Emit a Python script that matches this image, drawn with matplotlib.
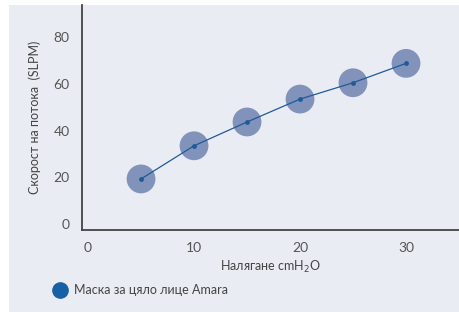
import matplotlib.pyplot as plt
from matplotlib.patches import Rectangle
from matplotlib.lines import Line2D

pressure = [5, 10, 15, 20, 25, 30]
flow = [19.3, 33.5, 43.7, 53.5, 60.5, 68.8]
xticks = [0, 10, 20, 30]
yticks = [0, 20, 40, 60, 80]
series_name = 'Маска за цяло лице Amara'

bg = '#eaecf4'
plt.rcParams['font.family'] = ['Lato', 'DejaVu Sans']

fig = plt.figure(figsize=(4.59, 3.12), dpi=100)
fig.patches.append(Rectangle((9 / 459, 0), 1, 1 - 5 / 312, transform=fig.transFigure,
                             facecolor=bg, edgecolor='none', zorder=-5))

ax = fig.add_axes([82 / 459, 82 / 312, 1 - 82 / 459, 1 - 87 / 312])
ax.set_zorder(2)
ax.set_facecolor(bg)
ax.plot(pressure, flow, color='#1f5a99', lw=0.9, zorder=3)
ax.scatter(pressure, flow, s=430, color='#7b8db8', alpha=0.95, edgecolor='none', zorder=2)
ax.scatter(pressure, flow, s=6, color='#1f5a99', zorder=4)

ax.set_xlim(-0.57, 35)
ax.set_ylim(-2.57, 93.8)
ax.set_xticks(xticks)
ax.set_yticks(yticks)
ax.tick_params(length=0, labelsize=10, colors='#555555', pad=9)
for s in ['top', 'right']:
    ax.spines[s].set_visible(False)
for s in ['left', 'bottom']:
    ax.spines[s].set_color('#444444')
    ax.spines[s].set_linewidth(1.3)

ax.set_xlabel('Налягане cmH$_2$O', fontsize=9, color='#444444', labelpad=3)
ax.set_ylabel('Скорост на потока  (SLPM)', fontsize=9, color='#444444', labelpad=9)

fig.legend(handles=[Line2D([], [], marker='o', ls='none', color='#1760a5', markersize=11)],
           labels=[series_name], loc='center left', bbox_to_anchor=(36 / 459, 1 - 290 / 312),
           frameon=False, fontsize=9, handletextpad=0.1, labelcolor='#444444')

fig.savefig('out.png', dpi=100)
